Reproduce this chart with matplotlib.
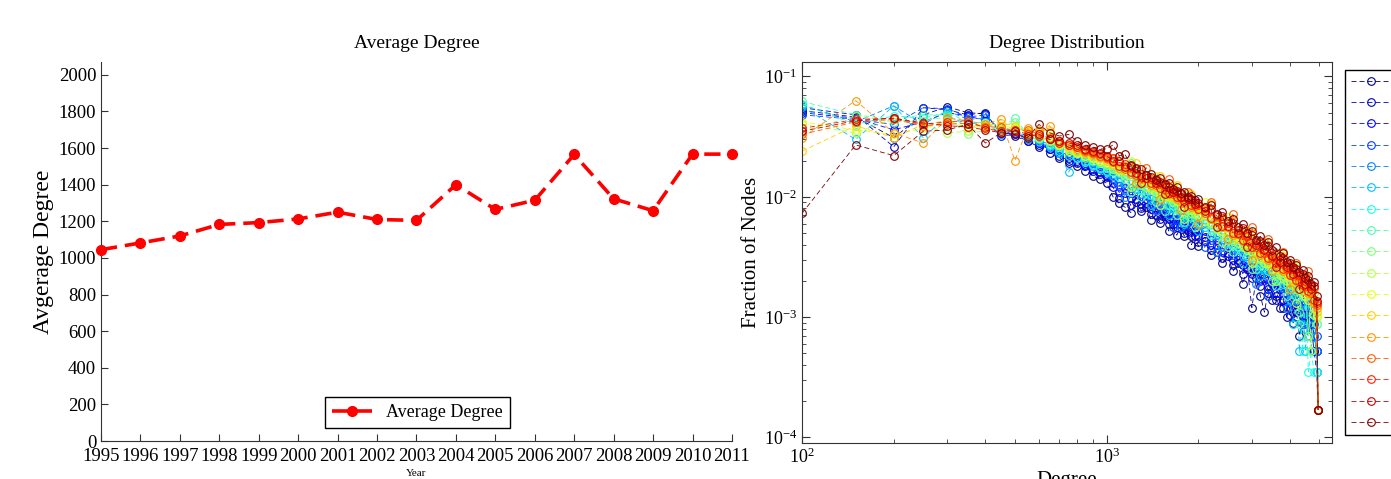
import numpy as np
import matplotlib.pyplot as plt

plt.rcParams['font.family'] = ['Liberation Serif', 'DejaVu Serif']
plt.rcParams['mathtext.fontset'] = 'custom'
plt.rcParams['mathtext.rm'] = 'Liberation Serif'
plt.rcParams['mathtext.default'] = 'regular'

# 平均度数
years = list(range(1995, 2012))
avg_degree = [1045, 1082, 1120, 1183, 1193, 1213, 1250, 1210, 1205,
              1400, 1265, 1315, 1565, 1323, 1258, 1567, 1567]

# 度分布 (degree bins, fraction values in units of 1e-5)
degree = list(range(100, 2001, 50)) + list(range(2100, 4901, 100)) + [4950]

frac_1995 = [5200, 4600, 3100, 4800, 5600, 5000, 4900, 3400, 3200, 2900, 2600, 2300, 2100, 1900, 1800, 1650, 1500, 1400, 1300,
             1000, 880, 820, 740, 900, 760, 820, 640, 700, 610, 690, 520, 600, 480, 560, 470, 520, 400, 470, 390,
             430, 330, 350, 280, 320, 240, 280, 190, 250, 120, 210, 150, 110, 170, 140, 150, 120, 140, 100, 120,
             90, 110, 70, 100, 80, 70, 87, 52, 52, 17]
frac_1996 = [5500, 4800, 2600, 5500, 5300, 4800, 5000, 3300, 3400, 3000, 2700, 2500, 2200, 2000, 1900, 1800, 1650, 1550, 1450,
             1200, 980, 1080, 850, 960, 800, 880, 720, 770, 660, 720, 600, 650, 560, 600, 500, 560, 470, 520, 420,
             460, 360, 400, 310, 340, 270, 300, 230, 260, 210, 240, 180, 210, 160, 190, 140, 170, 120, 150, 105,
             140, 100, 120, 87, 105, 70, 87, 52, 35, 17]
frac_1997 = [5000, 4500, 3600, 4200, 5000, 4700, 4300, 3200, 3300, 2900, 2800, 2500, 2300, 2100, 2000, 1850, 1700, 1600, 1500,
             1300, 1090, 1180, 980, 1080, 870, 960, 790, 860, 720, 800, 660, 720, 600, 680, 560, 620, 510, 580, 470,
             520, 400, 440, 350, 380, 300, 330, 270, 290, 230, 260, 200, 230, 180, 210, 160, 190, 140, 170, 130,
             150, 120, 140, 105, 120, 87, 105, 70, 52, 17]
frac_1998 = [4800, 4400, 4000, 5500, 5400, 4600, 4800, 3500, 3400, 3100, 2800, 2600, 2400, 2200, 2100, 1900, 1800, 1700, 1550,
             1420, 1240, 1300, 1080, 1160, 1250, 1050, 880, 940, 800, 870, 730, 560, 660, 720, 620, 670, 560, 620, 520,
             380, 440, 480, 380, 420, 330, 360, 420, 320, 250, 280, 230, 250, 150, 230, 180, 200, 160, 180, 145,
             165, 200, 150, 120, 135, 105, 120, 87, 70, 17]
frac_1999 = [5800, 4200, 5700, 4000, 5200, 4400, 4500, 3700, 3500, 3200, 3000, 2700, 2500, 2300, 2150, 2000, 1900, 1750, 1650,
             1550, 1330, 1000, 1180, 1270, 1060, 1140, 960, 780, 870, 940, 800, 870, 720, 560, 680, 740, 620, 690, 570,
             610, 480, 350, 420, 450, 360, 400, 320, 350, 280, 190, 250, 280, 220, 250, 200, 230, 175, 120, 160,
             180, 140, 165, 87, 145, 87, 130, 70, 52, 17]
frac_2000 = [5600, 3000, 5700, 3100, 4700, 4000, 4200, 3300, 3600, 3000, 2900, 2600, 2300, 1600, 2100, 2000, 1800, 1700, 1600,
             1500, 1580, 1300, 1100, 1170, 1280, 1050, 850, 960, 1060, 880, 700, 800, 880, 740, 600, 680, 760, 630, 520,
             560, 600, 480, 380, 410, 440, 360, 280, 320, 350, 280, 220, 250, 280, 230, 180, 200, 220, 180, 140,
             87, 170, 52, 150, 52, 130, 52, 120, 35, 17]
frac_2001 = [5900, 4000, 4700, 4500, 5000, 4200, 4100, 3600, 3700, 3100, 3000, 2700, 2400, 2200, 2100, 1950, 1850, 1750, 1650,
             1700, 1450, 1540, 1900, 1380, 1150, 1240, 1040, 1120, 1300, 1020, 860, 940, 780, 1000, 730, 790, 680, 850, 620,
             650, 530, 700, 460, 490, 400, 520, 350, 370, 310, 420, 270, 290, 240, 320, 220, 240, 190, 270, 170,
             190, 150, 170, 52, 150, 35, 52, 35, 35, 17]
frac_2002 = [6200, 4800, 4400, 4800, 4800, 3800, 4000, 3700, 4500, 3300, 3100, 2800, 2600, 2400, 2300, 2100, 2000, 1900, 1750,
             1600, 1690, 1400, 1500, 1260, 1000, 1130, 1240, 1020, 1100, 760, 1020, 840, 920, 780, 620, 720, 800, 670, 720,
             590, 480, 500, 560, 440, 350, 380, 430, 330, 370, 250, 330, 260, 300, 240, 180, 210, 240, 190, 210,
             170, 195, 87, 180, 150, 70, 150, 105, 87, 17]
frac_2003 = [3500, 4700, 4200, 4300, 4600, 3300, 3600, 3800, 4200, 3300, 3200, 2900, 2700, 2500, 2300, 2200, 2050, 1950, 1850,
             1800, 1600, 1620, 1100, 1460, 1260, 1330, 1150, 900, 1040, 1120, 950, 1000, 700, 920, 800, 850, 740, 560, 690,
             700, 580, 620, 500, 380, 430, 470, 380, 410, 250, 360, 300, 320, 270, 200, 240, 260, 210, 150, 190,
             210, 170, 110, 150, 170, 70, 150, 105, 87, 17]
frac_2004 = [4000, 3400, 4500, 4000, 3400, 3500, 3700, 3600, 3800, 3400, 3100, 2900, 2700, 2500, 2350, 2200, 2100, 2000, 1900,
             1700, 1720, 1500, 1200, 1340, 1380, 1200, 1250, 1090, 850, 990, 1040, 900, 960, 830, 650, 770, 820, 720, 760,
             630, 660, 540, 420, 470, 500, 410, 440, 360, 280, 320, 340, 280, 310, 250, 200, 230, 250, 200, 220,
             180, 130, 170, 185, 150, 160, 52, 140, 100, 17]
frac_2005 = [4200, 3600, 3300, 3700, 4200, 3800, 4100, 3900, 3700, 3500, 3400, 3200, 2700, 2400, 2300, 2200, 2100, 2000, 1950,
             1900, 1680, 1720, 2000, 1560, 1320, 1400, 1190, 1500, 1080, 1160, 990, 1250, 920, 980, 840, 1050, 780, 840, 720,
             900, 610, 640, 520, 680, 450, 490, 400, 520, 350, 380, 310, 420, 280, 300, 250, 340, 220, 240, 200,
             270, 180, 200, 160, 220, 140, 160, 120, 105, 17]
frac_2006 = [2400, 3900, 3100, 4000, 4300, 3700, 3900, 4100, 3900, 3400, 3600, 3500, 2800, 2600, 2400, 2300, 2200, 2100, 2000,
             1850, 1900, 1640, 1700, 1900, 1540, 1320, 1400, 1200, 1500, 1100, 1160, 1000, 1250, 920, 980, 850, 1050, 790, 830,
             700, 870, 590, 650, 520, 650, 450, 500, 400, 500, 350, 390, 310, 400, 280, 310, 250, 320, 230, 250,
             205, 270, 190, 210, 165, 190, 140, 160, 110, 17]
frac_2007 = [3100, 6300, 3400, 2800, 4500, 4300, 4000, 4400, 2000, 3700, 3500, 3900, 2900, 2700, 2500, 2350, 2250, 2150, 2050,
             2050, 1750, 1820, 1560, 1300, 1400, 1480, 1250, 1330, 950, 1220, 1060, 1110, 960, 780, 890, 950, 820, 870, 600,
             780, 650, 680, 560, 450, 480, 520, 430, 460, 300, 410, 330, 360, 300, 240, 270, 290, 240, 260, 170,
             240, 200, 220, 175, 195, 160, 175, 130, 120, 17]
frac_2008 = [3300, 4200, 4400, 3900, 4000, 4100, 3800, 3800, 3500, 3600, 3300, 3100, 2900, 2700, 2600, 2400, 2300, 2200, 2100,
             1950, 2200, 1700, 1720, 1520, 1560, 1750, 1400, 1250, 1290, 1150, 1400, 1050, 1090, 970, 1000, 1100, 930, 840, 860,
             730, 900, 630, 670, 560, 720, 490, 530, 430, 560, 380, 420, 340, 450, 310, 340, 280, 350, 250, 270,
             220, 280, 200, 220, 180, 240, 160, 175, 125, 17]
frac_2009 = [3700, 4400, 4500, 4000, 4200, 4300, 3700, 3500, 3600, 3300, 3200, 3000, 2800, 2700, 2600, 2450, 2350, 2250, 2150,
             2100, 1800, 1880, 1620, 1700, 1450, 1530, 1300, 1400, 1180, 1260, 1080, 1150, 990, 1060, 920, 980, 850, 900, 790,
             800, 670, 700, 570, 610, 500, 530, 440, 470, 380, 410, 340, 370, 310, 330, 280, 300, 250, 270, 225,
             250, 205, 225, 185, 200, 165, 180, 140, 130, 17]
frac_2010 = [3500, 4300, 4500, 4100, 3900, 3800, 3600, 3400, 3500, 3200, 3300, 3000, 2900, 2800, 2700, 2500, 2400, 2300, 2200,
             2000, 1980, 1780, 1800, 1590, 1300, 1430, 1470, 1300, 1330, 1050, 1210, 1090, 1110, 1000, 820, 950, 950, 870, 880,
             760, 790, 560, 690, 570, 610, 500, 550, 380, 480, 400, 430, 360, 390, 320, 260, 290, 310, 260, 280,
             230, 250, 170, 230, 190, 205, 170, 180, 135, 17]
frac_2011 = [730, 2700, 2200, 3500, 3600, 4000, 2800, 3400, 3300, 3100, 4000, 3400, 3200, 3300, 2900, 2700, 2600, 2500, 2500,
             2700, 2200, 2250, 1850, 1750, 1700, 1520, 1560, 1380, 1420, 1270, 1300, 1160, 1200, 1080, 1100, 1000, 1020, 940, 950,
             830, 860, 720, 750, 630, 660, 560, 590, 500, 520, 440, 470, 400, 420, 360, 380, 320, 340, 290, 300,
             260, 270, 235, 245, 210, 220, 190, 195, 150, 17]

series = [frac_1995, frac_1996, frac_1997, frac_1998, frac_1999, frac_2000, frac_2001, frac_2002, frac_2003,
          frac_2004, frac_2005, frac_2006, frac_2007, frac_2008, frac_2009, frac_2010, frac_2011]

axis_color = '#333333'

fig = plt.figure(figsize=(13.91, 4.79), dpi=100)

# 左图：平均度数
ax1 = fig.add_axes([0.0726, 0.0793, 0.4536, 0.7912])
ax1.plot(years, avg_degree, '--o', color='red', lw=2.6, ms=7, dashes=(4.5, 2.2),
         clip_on=False, zorder=3, label='Average Degree')
ax1.set_xlim(1995, 2011)
ax1.set_ylim(0, 2070)
ax1.set_xticks(years)
ax1.set_yticks(range(0, 2001, 200))
ax1.tick_params(direction='in', labelsize=13.5, length=5, color=axis_color)
ax1.tick_params(axis='x', pad=5)
for s in ['top', 'right']:
    ax1.spines[s].set_visible(False)
for s in ['left', 'bottom']:
    ax1.spines[s].set_color(axis_color)
ax1.set_title('Average Degree', fontsize=14, pad=10)
ax1.set_xlabel('Year', fontsize=8, labelpad=3)
ax1.set_ylabel('Avgerage Degree', fontsize=17, labelpad=3)
ax1.legend(loc='lower center', bbox_to_anchor=(0.502, 0.034), fancybox=False,
           edgecolor='black', fontsize=13, handlelength=2.2, borderpad=0.4,
           borderaxespad=0, framealpha=1)

# 右图：度分布
ax2 = fig.add_axes([0.5766, 0.0752, 0.381, 0.7954])
colors = plt.cm.jet(np.linspace(0, 1, len(years)))
for yr, vals, c in zip(years, series, colors):
    ax2.loglog(degree, np.array(vals) * 1e-5, '--o', color=c, mfc='none', ms=5.5,
               lw=0.6, mew=0.8, dashes=(6, 3.6), label=str(yr))
ax2.set_xlim(100, 5500)
ax2.set_ylim(9e-5, 0.132)
ax2.tick_params(which='both', direction='in', top=True, right=True,
                color=axis_color, labelsize=13)
ax2.tick_params(which='major', length=6)
ax2.tick_params(which='minor', length=3)
for s in ax2.spines.values():
    s.set_color(axis_color)
ax2.set_title('Degree Distribution', fontsize=14, pad=10)
ax2.set_xlabel('Degree', fontsize=15, labelpad=3)
ax2.set_ylabel('Fraction of Nodes', fontsize=15, labelpad=2)
ax2.legend(loc='upper left', bbox_to_anchor=(1345 / 1391, 1 - 70 / 479),
           bbox_transform=fig.transFigure, fancybox=False, edgecolor='black',
           fontsize=10, labelspacing=0.6, handlelength=3.0, borderaxespad=0,
           framealpha=1)

fig.savefig('out.png', dpi=100)
